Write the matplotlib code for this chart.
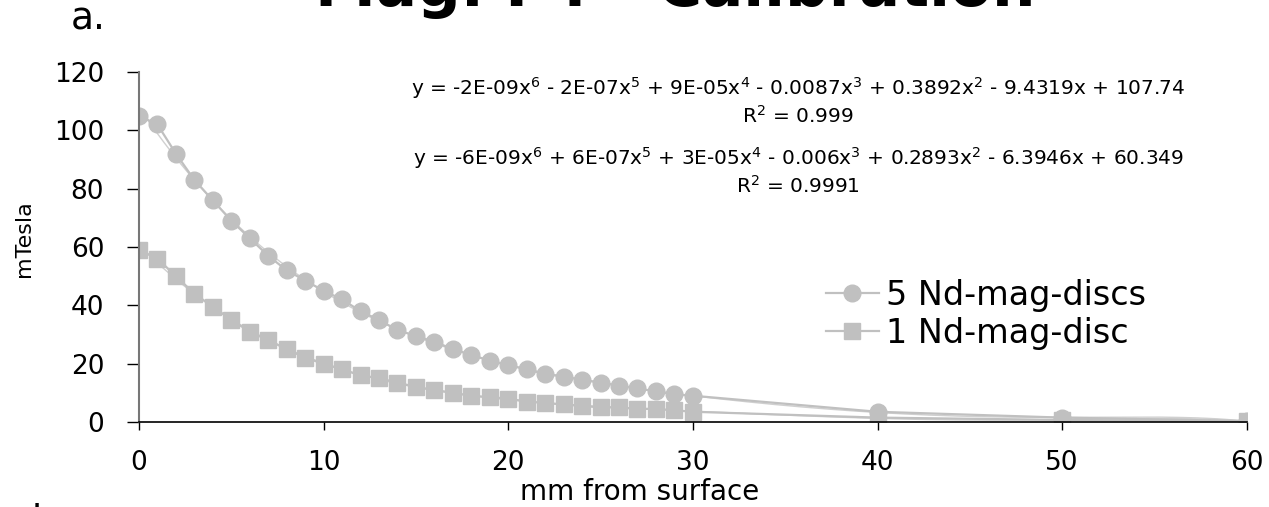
import numpy as np
import matplotlib.pyplot as plt

plt.rcParams['font.family'] = ['DejaVu Sans']
plt.rcParams['mathtext.fontset'] = 'dejavusans'

# mm from surface
dist = [0, 1, 2, 3, 4, 5, 6, 7, 8, 9, 10, 11, 12, 13, 14, 15, 16, 17, 18, 19,
        20, 21, 22, 23, 24, 25, 26, 27, 28, 29, 30, 40, 50, 60]

# mTesla readings
five_discs = [105, 102, 92, 83, 76, 69, 63, 57, 52, 48.5, 45, 42, 38, 35, 31.5, 29.5,
              27.5, 25, 23, 21, 19.5, 18, 16.5, 15.5, 14.5, 13.5, 12.5, 11.5, 10.5,
              9.5, 9, 3.5, 1.5, 0.3]
one_disc = [59, 56, 50, 44, 39.5, 35, 31, 28, 25, 22, 20, 18, 16, 15, 13.5, 12, 11,
            10, 9, 8.5, 8, 7, 6.5, 6, 5.5, 5, 5, 4.5, 4.5, 4, 3.5, 1.5, 0.7, 0.2]

labels = ['5 Nd-mag-discs', '1 Nd-mag-disc']
eq_five = ('y = -2E-09x$^6$ - 2E-07x$^5$ + 9E-05x$^4$ - 0.0087x$^3$ + 0.3892x$^2$'
           ' - 9.4319x + 107.74')
r2_five = 'R$^2$ = 0.999'
eq_one = ('y = -6E-09x$^6$ + 6E-07x$^5$ + 3E-05x$^4$ - 0.006x$^3$ + 0.2893x$^2$'
          ' - 6.3946x + 60.349')
r2_one = 'R$^2$ = 0.9991'

grey = '#C0C0C0'

fig = plt.figure(figsize=(12.69, 5.07), dpi=100)
ax = fig.add_axes([0.1095, 0.1677, 0.873, 0.6903])

# polynomial trendlines (6th order, as in the spreadsheet)
xs = np.linspace(0, 60, 400)
for ys in (five_discs, one_disc):
    p = np.polyfit(dist, ys, 6)
    ax.plot(xs, np.polyval(p, xs), color='#D0D0D0', lw=1.0, zorder=1)

ax.plot(dist, five_discs, color=grey, lw=1.6, marker='o', ms=12,
        markeredgecolor=grey, label=labels[0], zorder=2)
ax.plot(dist, one_disc, color=grey, lw=1.6, marker='s', ms=11,
        markeredgecolor=grey, label=labels[1], zorder=2)

ax.set_xlim(0, 60)
ax.set_ylim(0, 120)
ax.set_xticks(range(0, 61, 10))
ax.set_yticks(range(0, 121, 20))
ax.spines['top'].set_visible(False)
ax.spines['right'].set_visible(False)
ax.spines['left'].set_color('#777777')
ax.spines['left'].set_linewidth(1.5)
ax.spines['bottom'].set_color('black')
ax.spines['bottom'].set_linewidth(1.2)
ax.tick_params(axis='y', direction='out', length=9, width=1, pad=16, labelsize=19)
ax.tick_params(axis='x', direction='out', length=6, width=1, pad=14, labelsize=19)

ax.set_xlabel('mm from surface', fontsize=20)
ax.xaxis.set_label_coords(0.452, -0.16)
fig.text(0.019, 0.53, 'mTesla', rotation=90, fontsize=16, ha='center', va='center')

ax.legend(loc='center left', bbox_to_anchor=(0.62, 0.307), frameon=False,
          fontsize=24, handlelength=1.6, handletextpad=0.2, labelspacing=0.15,
          borderaxespad=0, borderpad=0)

fig.text(0.629, 0.826, eq_five, fontsize=14.5, ha='center', va='center')
fig.text(0.629, 0.771, r2_five, fontsize=14.5, ha='center', va='center')
fig.text(0.629, 0.688, eq_one, fontsize=14.5, ha='center', va='center')
fig.text(0.629, 0.633, r2_one, fontsize=14.5, ha='center', va='center')

fig.text(0.056, 0.941, 'a.', fontsize=27, ha='left', va='baseline')
fig.text(0.025, -0.047, 'b.', fontsize=27, ha='left', va='baseline')
fig.text(0.532, 0.988, 'Mag. F4 - Calibration', fontsize=44, fontweight='bold',
         ha='center', va='baseline')

fig.savefig('out.png', dpi=100)
